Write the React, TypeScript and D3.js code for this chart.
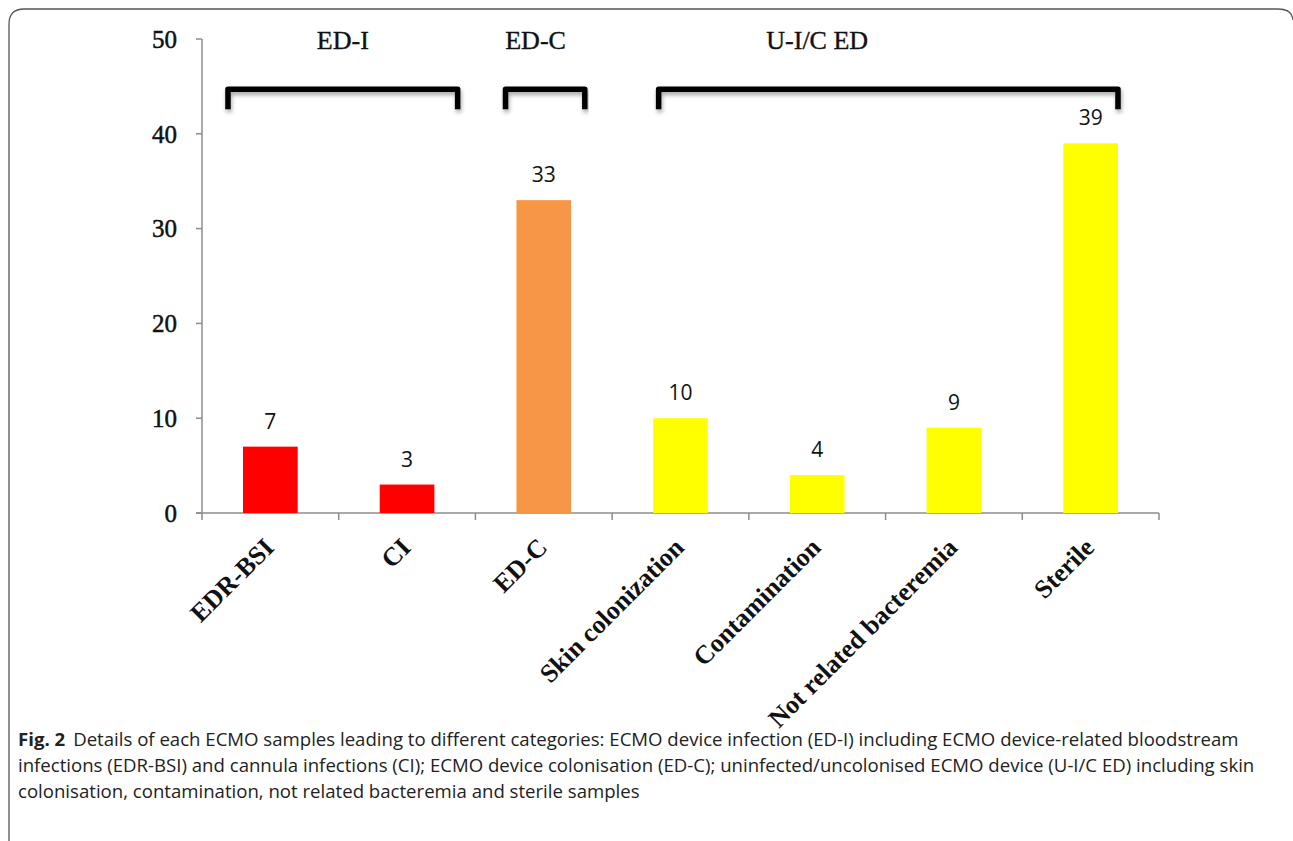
import React, { useEffect } from "react";
import * as d3 from "d3";

const categories = [
  "EDR-BSI",
  "CI",
  "ED-C",
  "Skin colonization",
  "Contamination",
  "Not related bacteremia",
  "Sterile",
];
const values = [7, 3, 33, 10, 4, 9, 39];
const categoryGroup = [0, 0, 1, 2, 2, 2, 2];
const groupNames = ["ED-I", "ED-C", "U-I/C ED"];
const groupColors = ["#FF0000", "#F79646", "#FFFF00"];
// bracket extents in category-index units
const bracketStart = [0.19, 2.22, 3.34];
const bracketEnd = [1.87, 2.8, 6.7];
const groupLabelPos = [1.03, 2.44, 4.5];
const yTicks = [0, 10, 20, 30, 40, 50];

const captionBold = "Fig. 2";
const captionLines = [
  "Details of each ECMO samples leading to different categories: ECMO device infection (ED-I) including ECMO device-related bloodstream",
  "infections (EDR-BSI) and cannula infections (CI); ECMO device colonisation (ED-C); uninfected/uncolonised ECMO device (U-I/C ED) including skin",
  "colonisation, contamination, not related bacteremia and sterile samples",
];

const W = 1293;
const H = 841;
const left = 202;
const right = 1159;
const top = 39;
const bottom = 513;

export default function App() {
  useEffect(() => {
    document.body.style.margin = "0";
  }, []);

  const x = d3
    .scaleBand<string>()
    .domain(categories)
    .range([left, right])
    .paddingInner(0.6)
    .paddingOuter(0.3);
  const xi = d3.scaleLinear().domain([0, categories.length]).range([left, right]);
  const y = d3.scaleLinear().domain([0, 50]).range([bottom, top]);

  const serif = "'Liberation Serif', 'DejaVu Serif', serif";
  const sans = "'Open Sans', 'Noto Sans', sans-serif";

  const bracketTopVal = 44.7;
  const bracketBotVal = 42.6;

  return (
    <svg width={W} height={H} style={{ display: "block", background: "#fff" }}>
      <defs>
        <filter id="sh" x="-5%" y="-50%" width="110%" height="200%">
          <feDropShadow dx="1" dy="3" stdDeviation="2" floodColor="#000" floodOpacity="0.35" />
        </filter>
      </defs>
      {/* frame */}
      <path
        d={`M9,841 L9,24 Q9,9 24,9 L1278,9 Q1292,9 1293,20`}
        fill="none"
        stroke="#555"
        strokeWidth={1.3}
      />

      {/* y axis */}
      <line x1={left} x2={left} y1={top} y2={bottom} stroke="#8c8c8c" strokeWidth={1.5} />
      {yTicks.map((t) => (
        <g key={t}>
          <line x1={left - 6} x2={left} y1={y(t)} y2={y(t)} stroke="#8c8c8c" strokeWidth={1.5} />
          <text
            x={177}
            y={y(t)}
            dy="0.35em"
            textAnchor="end"
            fontFamily={serif}
            fontSize={25}
            stroke="#111"
            strokeWidth={0.5}
            fill="#111"
          >
            {t}
          </text>
        </g>
      ))}

      {/* x axis */}
      <line x1={left - 6} x2={right} y1={bottom} y2={bottom} stroke="#8c8c8c" strokeWidth={1.5} />
      {d3.range(categories.length + 1).map((i) => (
        <line
          key={i}
          x1={xi(i)}
          x2={xi(i)}
          y1={bottom}
          y2={bottom + 7}
          stroke="#8c8c8c"
          strokeWidth={1.5}
        />
      ))}

      {/* bars */}
      {categories.map((c, i) => (
        <rect
          key={c}
          x={x(c)}
          y={y(values[i])}
          width={x.bandwidth()}
          height={y(0) - y(values[i])}
          fill={groupColors[categoryGroup[i]]}
        />
      ))}

      {/* value labels */}
      {categories.map((c, i) => (
        <text
          key={c}
          x={(x(c) as number) + x.bandwidth() / 2}
          y={y(values[i]) - 18}
          textAnchor="middle"
          fontFamily={sans}
          fontSize={21}
          fill="#111"
        >
          {values[i]}
        </text>
      ))}

      {/* category labels */}
      {categories.map((c) => {
        const cx = (x(c) as number) + x.bandwidth() / 2;
        return (
          <text
            key={c}
            transform={`translate(${cx + 5},${bottom + 36}) rotate(-45)`}
            textAnchor="end"
            fontFamily={serif}
            fontWeight="bold"
            fontSize={26}
            fill="#111"
          >
            {c}
          </text>
        );
      })}

      {/* brackets */}
      {groupNames.map((g, k) => (
        <g key={g}>
          <path
            d={`M${xi(bracketStart[k])},${y(bracketBotVal)} L${xi(bracketStart[k])},${y(bracketTopVal)} L${xi(
              bracketEnd[k]
            )},${y(bracketTopVal)} L${xi(bracketEnd[k])},${y(bracketBotVal)}`}
            fill="none"
            stroke="#000"
            strokeWidth={5.5}
            strokeLinejoin="round"
            filter="url(#sh)"
          />
          <text
            x={xi(groupLabelPos[k])}
            y={49}
            textAnchor="middle"
            fontFamily={serif}
            fontSize={26}
            stroke="#111"
            strokeWidth={0.4}
            fill="#111"
          >
            {g}
          </text>
        </g>
      ))}

      {/* caption */}
      <text x={18} y={746} fontFamily={sans} fontSize={18.6} fill="#222">
        <tspan fontWeight="bold">{captionBold}</tspan>
        <tspan dx={8}>{captionLines[0]}</tspan>
      </text>
      <text x={18} y={772} fontFamily={sans} fontSize={18.6} fill="#222">
        {captionLines[1]}
      </text>
      <text x={18} y={798} fontFamily={sans} fontSize={18.6} fill="#222">
        {captionLines[2]}
      </text>
    </svg>
  );
}
